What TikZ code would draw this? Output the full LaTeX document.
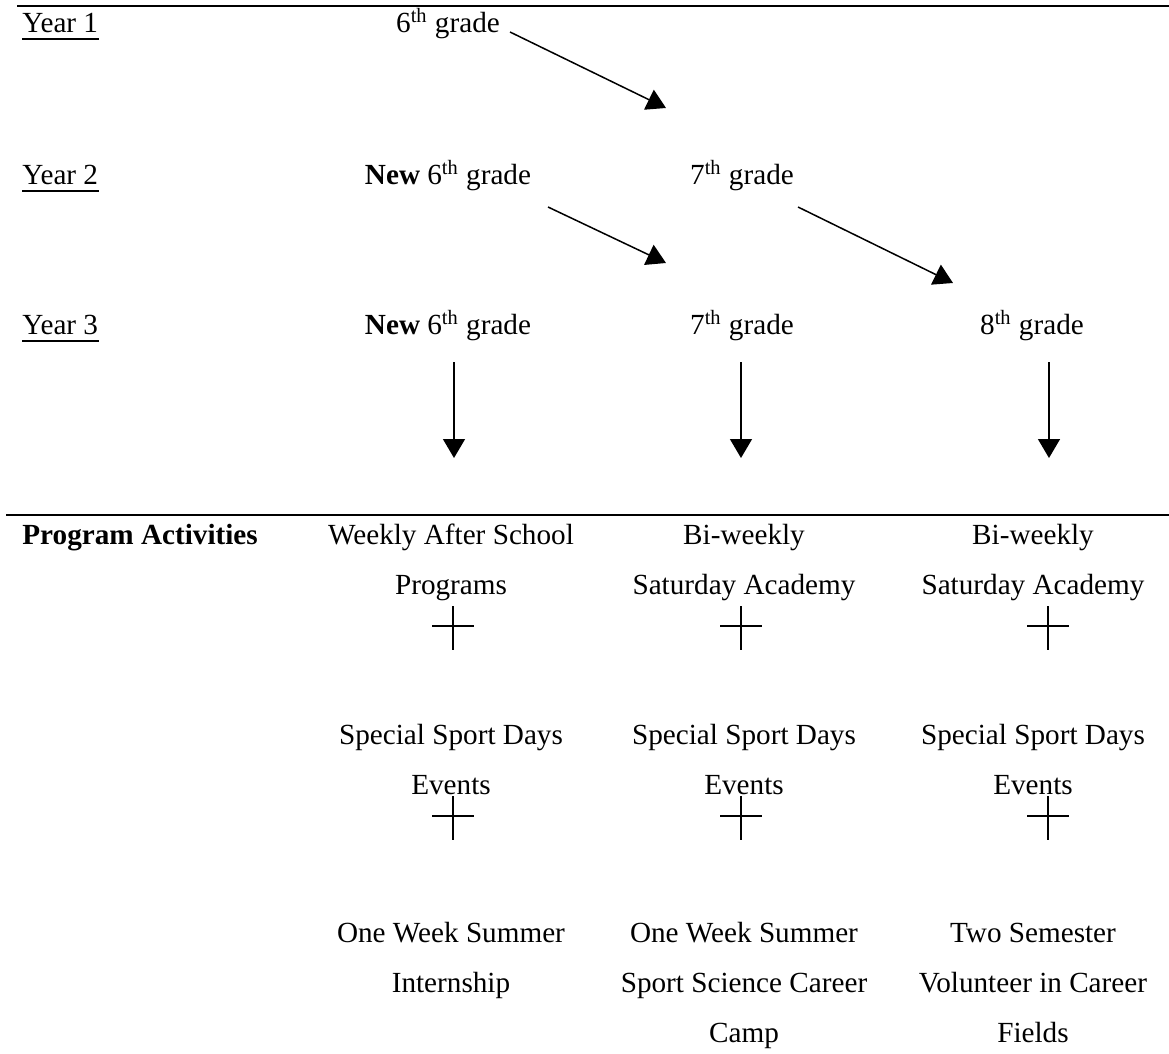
\documentclass[tikz,border=0pt]{standalone}
\usepackage{fontspec}
\setmainfont{Liberation Serif}
\usetikzlibrary{arrows.meta}
\begin{document}
\begin{tikzpicture}[x=0.5pt,y=-0.5pt,
  txt/.style={inner sep=0pt, anchor=base, font=\fontsize{14.6}{17}\selectfont},
  lbl/.style={txt, anchor=base west},
  rulel/.style={line width=1.1pt},
  arr/.style={line width=0.75pt, -{Triangle[width=11pt,length=9.5pt]}},
  uline/.style={line width=0.8pt},
  crs/.style={line width=0.65pt},
  plussign/.pic={\draw[crs] (0,-20) -- (0,24); \draw[crs] (-21,0) -- (21,0);}]
\useasboundingbox (0,0) rectangle (1169,1054);

% rules
\draw[rulel] (17,6) -- (1169,6);
\draw[rulel] (6,515) -- (1169,515);

% year labels
\node[lbl] (y1) at (22,33) {Year 1};
\node[lbl] (y2) at (22,185) {Year 2};
\node[lbl] (y3) at (22,335) {Year 3};
\foreach \n in {y1,y2,y3}
  \draw[uline] ([yshift=-3pt]\n.base west) -- ([yshift=-3pt]\n.base east);

% grades
\node[txt] (g1)  at (448,33)  {6\textsuperscript{th} grade};
\node[txt] (g2a) at (448,185) {\textbf{New} 6\textsuperscript{th} grade};
\node[txt] (g2b) at (742,185) {7\textsuperscript{th} grade};
\node[txt] (g3a) at (448,335) {\textbf{New} 6\textsuperscript{th} grade};
\node[txt] (g3b) at (742,335) {7\textsuperscript{th} grade};
\node[txt] (g3c) at (1032,335) {8\textsuperscript{th} grade};

% diagonal arrows
\coordinate (a1s) at (510,32);  \coordinate (a1e) at (666,108);
\coordinate (a2s) at (548,207); \coordinate (a2e) at (666,263);
\coordinate (a3s) at (798,207); \coordinate (a3e) at (953,283);
\draw[arr] (a1s) -- (a1e);
\draw[arr] (a2s) -- (a2e);
\draw[arr] (a3s) -- (a3e);

% down arrows
\coordinate (d1s) at (454,362);  \coordinate (d1e) at (454,458);
\coordinate (d2s) at (741,362);  \coordinate (d2e) at (741,458);
\coordinate (d3s) at (1049,362); \coordinate (d3e) at (1049,458);
\draw[arr] (d1s) -- (d1e);
\draw[arr] (d2s) -- (d2e);
\draw[arr] (d3s) -- (d3e);

% program activities
\node[lbl] (pa) at (22,544) {\textbf{Program Activities}};

\node[txt] (c1r1) at (451,544) {Weekly After School};
\node[txt] (c1r2) at (451,594) {Programs};
\node[txt] (c1r3) at (451,744) {Special Sport Days};
\node[txt] (c1r4) at (451,794) {Events};
\node[txt] (c1r5) at (451,942) {One Week Summer};
\node[txt] (c1r6) at (451,992) {Internship};

\node[txt] (c2r1) at (744,544) {Bi-weekly};
\node[txt] (c2r2) at (744,594) {Saturday Academy};
\node[txt] (c2r3) at (744,744) {Special Sport Days};
\node[txt] (c2r4) at (744,794) {Events};
\node[txt] (c2r5) at (744,942) {One Week Summer};
\node[txt] (c2r6) at (744,992) {Sport Science Career};
\node[txt] (c2r7) at (744,1042) {Camp};

\node[txt] (c3r1) at (1033,544) {Bi-weekly};
\node[txt] (c3r2) at (1033,594) {Saturday Academy};
\node[txt] (c3r3) at (1033,744) {Special Sport Days};
\node[txt] (c3r4) at (1033,794) {Events};
\node[txt] (c3r5) at (1033,942) {Two Semester};
\node[txt] (c3r6) at (1033,992) {Volunteer in Career};
\node[txt] (c3r7) at (1033,1042) {Fields};

% plus signs
\pic at (453,626) {plussign};
\pic at (741,626) {plussign};
\pic at (1048,626) {plussign};
\pic at (453,816) {plussign};
\pic at (741,816) {plussign};
\pic at (1048,816) {plussign};
\end{tikzpicture}
\end{document}
